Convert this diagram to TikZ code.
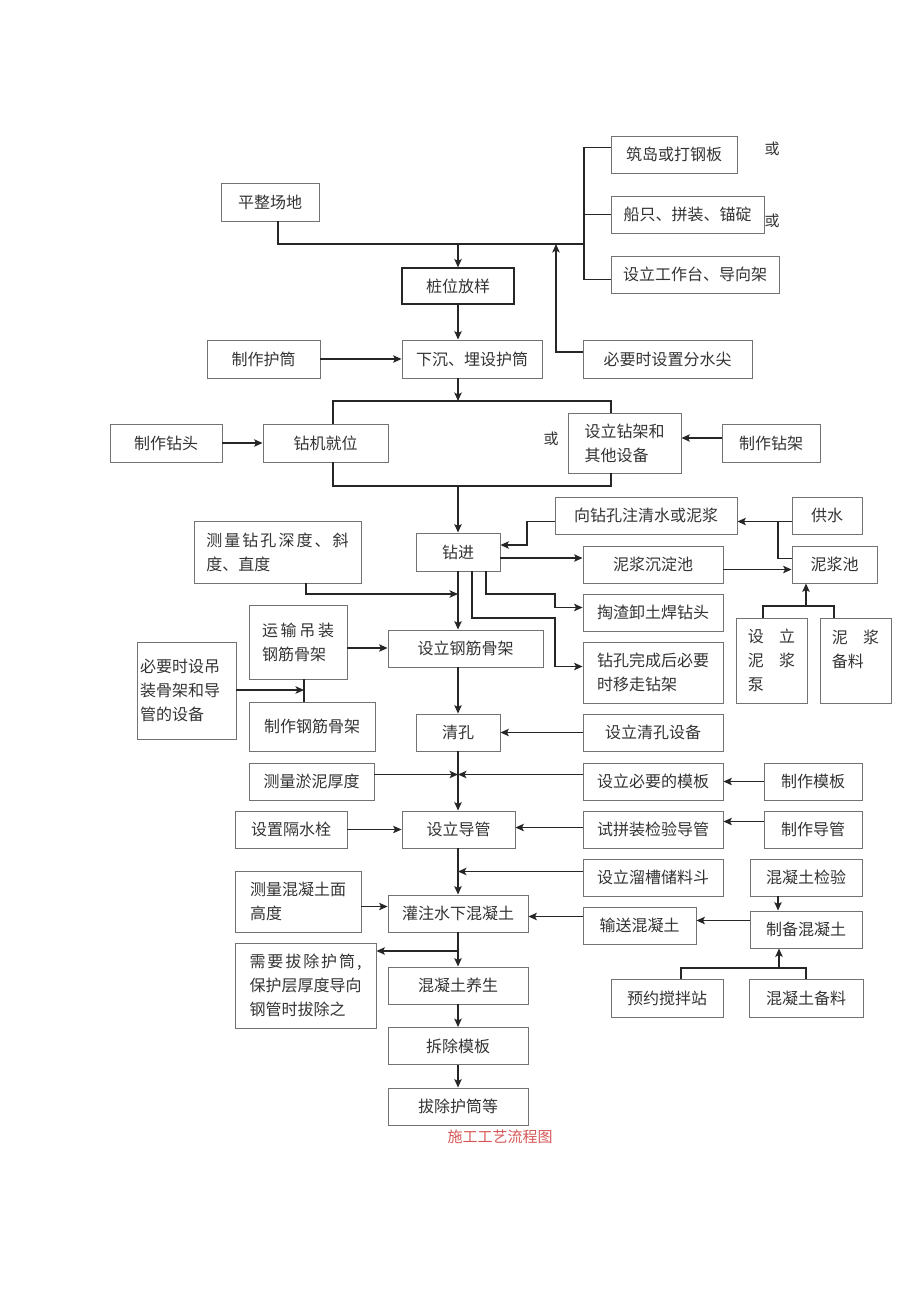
\documentclass[tikz,border=0pt]{standalone}
\usepackage{fontspec}
\newfontfamily\zh{Noto Sans CJK SC}
\usetikzlibrary{arrows.meta}
\definecolor{capred}{RGB}{214,86,86}

\begin{document}
\begin{tikzpicture}[x=1pt, y=-1pt,
        box/.style={draw=black!55, line width=0.9pt, text=black!80,
            font=\zh\fontsize{16}{24}\selectfont,
            minimum height=37pt, inner sep=0pt, align=center},
        keybox/.style={box, draw=black!85, line width=1.2pt},
        orlbl/.style={font=\zh\fontsize{15}{18}\selectfont, text=black!80, inner sep=0pt},
        conn/.style={line width=1.2pt, draw=black!85},
        arr/.style={conn, -{Stealth[length=8.5pt,width=7.5pt,inset=2pt]}},
    ]
    \useasboundingbox (0,0) rectangle (920,1301);

    % top: site and platform
    \node[box, minimum width=98pt, minimum height=38pt] (pzcd) at (270,202) {平整场地};
    \node[box, minimum width=126pt] (zhudao) at (674,154.5) {筑岛或打钢板};
    \node[box, minimum width=153pt] (chuanzhi) at (687.5,214.5) {船只、拼装、锚碇};
    \node[box, minimum width=168pt] (gztai) at (695,274.5) {设立工作台、导向架};
    \node[orlbl] (huoA) at (772,149) {或};
    \node[orlbl] (huoB) at (772,221) {或};
    \node[keybox, minimum width=112pt, minimum height=36pt] (zwfy) at (458,286) {桩位放样};
    \node[box, minimum width=113pt, minimum height=38pt] (zzhut) at (263.5,359) {制作护筒};
    \node[box, minimum width=140pt, minimum height=38pt] (xchen) at (472,359) {下沉、埋设护筒};
    \node[box, minimum width=169pt, minimum height=38pt] (fsj) at (667.5,359) {必要时设置分水尖};

    % drilling rig
    \node[box, minimum width=112pt, minimum height=38pt] (zztou) at (166,443) {制作钻头};
    \node[box, minimum width=125pt, minimum height=38pt] (zjjw) at (325.5,443) {钻机就位};
    \node[orlbl] (huoC) at (551,439) {或};
    \node[box, minimum width=113pt, minimum height=60pt, align=left] (zjj) at (624.5,443) {设立钻架和\\其他设备};
    \node[box, minimum width=98pt, minimum height=38pt] (zzjj) at (771,443) {制作钻架};

    % drilling
    \node[box, minimum width=84pt, minimum height=38pt] (zj) at (458,552) {钻进};
    \node[box, minimum width=182pt] (zhushui) at (646,515.5) {向钻孔注清水或泥浆};
    \node[box, minimum width=70pt] (gs) at (827,515.5) {供水};
    \node[box, minimum width=85pt] (njc) at (834.5,564.5) {泥浆池};
    \node[box, minimum width=140pt] (cdc) at (653,564.5) {泥浆沉淀池};
    \node[box, minimum width=140pt] (tz) at (653,612.5) {掏渣卸土焊钻头};
    \node[box, minimum width=140pt, minimum height=61pt, align=left] (ywzj) at (653,672.5) {钻孔完成后必要\\时移走钻架};
    \node[box, minimum width=71pt, minimum height=85pt, align=left] (njb) at (771.5,660.5) {设\hspace{0.95em}立\\泥\hspace{0.95em}浆\\泵};
    \node[box, minimum width=71pt, minimum height=85pt, align=left] (njbl) at (855.5,660.5) {泥\hspace{0.95em}浆\\备料\\~};
    \node[box, minimum width=167pt, minimum height=62pt, align=left] (clzk) at (277.5,552)
        {\makebox[8.9em][s]{测\hfill 量\hfill 钻\hfill 孔\hfill 深\hfill 度\hfill 、\hfill 斜}\\度、直度};

    % cage
    \node[box, minimum width=98pt, minimum height=74pt, align=left] (ysdz) at (298,642)
        {\makebox[4.5em][s]{运\hfill 输\hfill 吊\hfill 装}\\钢筋骨架};
    \node[box, minimum width=155pt] (slgj) at (465.5,648.5) {设立钢筋骨架};
    \node[box, minimum height=97pt, align=left, text width=93pt, inner xsep=3pt] (bysb) at (186.5,690.5) {必要时设吊\\装骨架和导\\管的设备};
    \node[box, minimum width=126pt, minimum height=49pt] (zzgj) at (312,726.5) {制作钢筋骨架};
    \node[box, minimum width=84pt] (qk) at (458,732.5) {清孔};
    \node[box, minimum width=140pt] (qksb) at (653,732.5) {设立清孔设备};

    % pipe and formwork
    \node[box, minimum width=125pt] (clyn) at (311.5,781.5) {测量淤泥厚度};
    \node[box, minimum width=140pt] (mb) at (653,781.5) {设立必要的模板};
    \node[box, minimum width=98pt] (zzmb) at (813,781.5) {制作模板};
    \node[box, minimum width=112pt] (gss) at (291,829.5) {设置隔水栓};
    \node[box, minimum width=113pt] (dg) at (458.5,829.5) {设立导管};
    \node[box, minimum width=140pt] (spz) at (653,829.5) {试拼装检验导管};
    \node[box, minimum width=98pt] (zzdg) at (813,829.5) {制作导管};
    \node[box, minimum width=140pt] (lc) at (653,877.5) {设立溜槽储料斗};
    \node[box, minimum width=112pt] (hnjy) at (806,877.5) {混凝土检验};

    % concrete
    \node[box, minimum width=126pt, minimum height=61pt, align=left] (clhn) at (298,901.5) {测量混凝土面\\高度};
    \node[box, minimum width=140pt] (gz) at (458,913.5) {灌注水下混凝土};
    \node[box, minimum width=113pt] (ss) at (639.5,925.5) {输送混凝土};
    \node[box, minimum width=112pt] (zb) at (806,929.5) {制备混凝土};
    \node[box, minimum width=141pt, minimum height=85pt, align=left] (bchu) at (305.5,985.5)
        {\makebox[7em][s]{需\hfill 要\hfill 拔\hfill 除\hfill 护\hfill 筒\hfill ,}\\保护层厚度导向\\钢管时拔除之};
    \node[box, minimum width=140pt] (ys) at (458,985.5) {混凝土养生};
    \node[box, minimum width=140pt] (ccmb) at (458,1046) {拆除模板};
    \node[box, minimum width=140pt] (bchtd) at (458,1106.5) {拔除护筒等};
    \node[box, minimum width=112pt, minimum height=38pt] (yy) at (667,998) {预约搅拌站};
    \node[box, minimum width=114pt, minimum height=38pt] (hnbl) at (806,998) {混凝土备料};
    \node[font=\zh\fontsize{15}{18}\selectfont, text=capred, inner sep=0pt] (cap) at (500,1137) {施工工艺流程图};

    % junction points
    \coordinate (spine) at (458,0);
    \coordinate (hL) at (278,244);
    \coordinate (hR) at (584,244);
    \coordinate (hA) at (556,244);
    \coordinate (brTL) at (333,401);
    \coordinate (brTR) at (611,401);
    \coordinate (brBL) at (333,486);
    \coordinate (brBR) at (611,486);
    \coordinate (zsK) at (527,545);
    \coordinate (gsJ) at (778,522);
    \coordinate (tzA) at (486,594);
    \coordinate (tzB) at (555,594);
    \coordinate (ywA) at (472,618);
    \coordinate (ywB) at (555,618);
    \coordinate (njL) at (763,606);
    \coordinate (njR) at (834,606);
    \coordinate (njM) at (806,606);
    \coordinate (clA) at (306,594);
    \coordinate (gjA) at (304,690);
    \coordinate (hnK) at (778,0);
    \coordinate (bcA) at (458,951);
    \coordinate (hbL) at (681,968);
    \coordinate (hbR) at (806,968);
    \coordinate (hbM) at (779,968);

    % connectors
    \draw[conn] (pzcd.south -| hL) -- (hL) -- (hR);
    \draw[conn] ([yshift=7pt]zhudao.west) -| (hR) |- ([yshift=-5pt]gztai.west);
    \draw[conn] (chuanzhi.west) -- (chuanzhi.west -| hR);
    \draw[arr] (hL -| spine) -- (zwfy.north);
    \draw[arr] ([yshift=7pt]fsj.west) -| (hA);
    \draw[arr] (zwfy.south) -- (xchen.north -| spine);
    \draw[arr] (zzhut.east) -- (xchen.west);
    \draw[arr] (xchen.south -| spine) -- (brTL -| spine);
    \draw[conn] (zjjw.north -| brTL) -- (brTL) -- (brTR) -- (zjj.north -| brTR);
    \draw[conn] (zjjw.south -| brBL) -- (brBL) -- (brBR) -- (zjj.south -| brBR);
    \draw[arr] (zztou.east) -- (zjjw.west);
    \draw[arr] ([yshift=5pt]zzjj.west) -- ([yshift=5pt]zjj.east);
    \draw[arr] (brBL -| spine) -- (zj.north);
    \draw[arr] ([yshift=-6pt]zhushui.west) -| (zsK) -- (zsK -| zj.east);
    \draw[arr] ([yshift=-6pt]gs.west) -- ([yshift=-6pt]zhushui.east);
    \draw[conn] ([yshift=6pt]njc.west) -| (gsJ);
    \draw[arr] ([yshift=-6pt]zj.east) -- ([yshift=-6pt]zj.east -| cdc.west);
    \draw[arr] ([yshift=-5pt]cdc.east) -- ([yshift=-5pt]cdc.east -| njc.west);
    \draw[arr] (zj.south -| tzA) -- (tzA) -- (tzB) |- ([yshift=5pt]tz.west);
    \draw[arr] (zj.south -| ywA) -- (ywA) -- (ywB) |- ([yshift=6pt]ywzj.west);
    \draw[conn] (njb.north -| njL) -- (njL) -- (njR) -- (njbl.north -| njR);
    \draw[arr] (njM) -- (njM |- njc.south);
    \draw[arr] (clzk.south -| clA) -- (clA) -- (clA -| spine);
    \draw[arr] (zj.south) -- (slgj.north -| spine);
    \draw[arr] ([yshift=-6pt]ysdz.east) -- ([yshift=-6pt]ysdz.east -| slgj.west);
    \draw[conn] (ysdz.south -| gjA) -- (zzgj.north -| gjA);
    \draw[arr] (bysb.east |- gjA) -- (gjA);
    \draw[arr] (slgj.south -| spine) -- (qk.north);
    \draw[arr] (qksb.west) -- (qk.east);
    \draw[arr] (qk.south) -- (dg.north -| spine);
    \draw[arr] ([yshift=7pt]clyn.east) -- ([yshift=7pt]clyn.east -| spine);
    \draw[arr] ([yshift=7pt]mb.west) -- ([yshift=7pt]mb.west -| spine);
    \draw[arr] (zzmb.west) -- (mb.east);
    \draw[arr] (gss.east) -- (dg.west);
    \draw[arr] ([yshift=2pt]spz.west) -- ([yshift=2pt]spz.west -| dg.east);
    \draw[arr] ([yshift=8pt]zzdg.west) -- ([yshift=8pt]spz.east);
    \draw[arr] (dg.south -| spine) -- (gz.north);
    \draw[arr] ([yshift=6pt]lc.west) -- ([yshift=6pt]lc.west -| spine);
    \draw[arr] (hnjy.south -| hnK) -- (zb.north -| hnK);
    \draw[arr] ([yshift=-5pt]clhn.east) -- ([yshift=-5pt]clhn.east -| gz.west);
    \draw[arr] ([yshift=9pt]ss.west) -- ([yshift=9pt]ss.west -| gz.east);
    \draw[arr] ([yshift=9pt]zb.west) -- ([yshift=9pt]zb.west -| ss.east);
    \draw[arr] (gz.south) -- (ys.north);
    \draw[arr] (bcA) -- (bcA -| bchu.east);
    \draw[arr] (ys.south) -- (ccmb.north);
    \draw[arr] (ccmb.south) -- (bchtd.north);
    \draw[conn] (yy.north -| hbL) -- (hbL) -- (hbR) -- (hnbl.north -| hbR);
    \draw[arr] (hbM) -- (hbM |- zb.south);
\end{tikzpicture}
\end{document}
